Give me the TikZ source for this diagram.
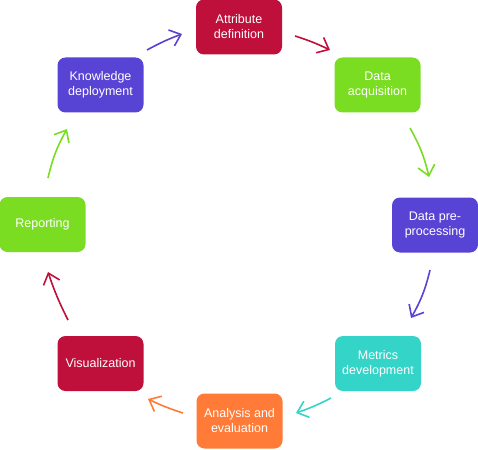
\documentclass[tikz,border=0pt]{standalone}
\usepackage{fontspec}
\setmainfont{Liberation Sans}
\usetikzlibrary{arrows.meta}
\definecolor{crim}{RGB}{190,16,58}
\definecolor{grn}{RGB}{122,221,34}
\definecolor{purp}{RGB}{88,68,212}
\definecolor{cyn}{RGB}{52,212,200}
\definecolor{orng}{RGB}{255,123,55}
\tikzset{
  stepbox/.style={rounded corners=8pt, minimum width=86pt, minimum height=55pt,
    text=white, align=center, inner sep=2pt,
    font=\fontsize{12.5pt}{15pt}\selectfont},
  cyc/.style={line width=1.6pt, -{Straight Barb[length=10pt,width=17pt,line width=1.6pt]}}
}
\begin{document}
\begin{tikzpicture}[x=1pt,y=-1pt]
\useasboundingbox (0,0) rectangle (478,449);
\node[stepbox, fill=crim] (attr) at (239,27) {Attribute\\definition};
\node[stepbox, fill=grn] (acq) at (377.5,85) {Data\\acquisition};
\node[stepbox, fill=purp] (pre) at (435,225) {Data pre-\\processing};
\node[stepbox, fill=cyn] (met) at (378,363.5) {Metrics\\development};
\node[stepbox, fill=orng] (ana) at (239.5,421) {Analysis and\\evaluation};
\node[stepbox, fill=crim] (vis) at (100.5,363.5) {Visualization};
\node[stepbox, fill=grn] (rep) at (42.5,224.5) {Reporting};
\node[stepbox, fill=purp] (know) at (100.5,85) {Knowledge\\deployment};

\coordinate (k1) at (147,50);  \coordinate (k2) at (182,34);
\coordinate (a1) at (295,36);  \coordinate (a2) at (330,50);
\coordinate (q1) at (410,128); \coordinate (q2) at (429,177);
\coordinate (p1) at (430,270); \coordinate (p2) at (411,318);
\coordinate (m1) at (331,398); \coordinate (m2) at (296,413);
\coordinate (n1) at (183,413); \coordinate (n2) at (148,399);
\coordinate (v1) at (68,320);  \coordinate (v2) at (48,272);
\coordinate (r1) at (48,178);  \coordinate (r2) at (67,129);

\draw[cyc, purp] (k1) to[bend left=4] (k2);
\draw[cyc, crim] (a1) to[bend left=4] (a2);
\draw[cyc, grn] (q1) to[bend left=8] (q2);
\draw[cyc, purp] (p1) to[bend left=8] (p2);
\draw[cyc, cyn] (m1) to[bend left=4] (m2);
\draw[cyc, orng] (n1) to[bend left=4] (n2);
\draw[cyc, crim] (v1) to[bend left=4] (v2);
\draw[cyc, grn] (r1) to[bend left=8] (r2);
\end{tikzpicture}
\end{document}
